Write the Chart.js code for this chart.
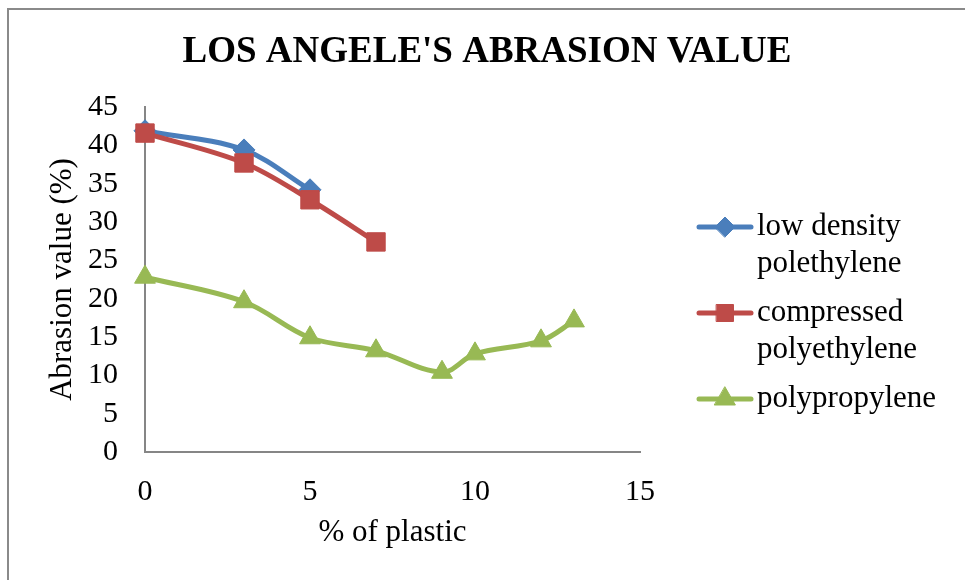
<!DOCTYPE html>
<html>
<head>
<meta charset="utf-8">
<script src="https://cdn.jsdelivr.net/npm/chart.js@4"></script>
<style>
    html, body { margin: 0; padding: 0; background: #fff; }
    #wrap { width: 965px; height: 580px; position: relative; }
</style>
</head>
<body>
<div id="wrap"><canvas id="abrasionChart" width="965" height="580"></canvas></div>
<script>
// % of plastic added, per mix
const ldpeX = [0, 3, 5];
const ldpeY = [41.9, 39.4, 34.2];

const compressedX = [0, 3, 5, 7];
const compressedY = [41.6, 37.7, 32.9, 27.4];

const ppX = [0, 3, 5, 7, 9, 10, 12, 13];
const ppY = [22.8, 19.6, 14.9, 13.2, 10.4, 12.8, 14.5, 17.1];

const seriesNames = [
    ['low density', 'polethylene'],
    ['compressed', 'polyethylene'],
    ['polypropylene']
];

const chartTitle = "LOS ANGELE'S ABRASION VALUE";
const xTitle = '% of plastic';
const yTitle = 'Abrasion value (%)';

const SERIF = '"Liberation Serif", "Times New Roman", serif';

function toPoints(xs, ys) {
    return xs.map((x, i) => ({ x: x, y: ys[i] }));
}

// Frame, title and the legend (line + marker, wrapped labels)
const decorations = {
    id: 'decorations',
    beforeDraw(chart) {
        const ctx = chart.ctx;
        ctx.save();
        ctx.fillStyle = '#fff';
        ctx.fillRect(0, 0, chart.width, chart.height);
        ctx.strokeStyle = '#8a8a8a';
        ctx.lineWidth = 2;
        ctx.beginPath();
        ctx.moveTo(8, chart.height + 2);
        ctx.lineTo(8, 9);
        ctx.lineTo(chart.width + 2, 9);
        ctx.stroke();
        ctx.restore();
    },
    afterDraw(chart) {
        const ctx = chart.ctx;
        ctx.save();
        ctx.fillStyle = '#000';
        ctx.font = 'bold 37px ' + SERIF;
        ctx.textAlign = 'center';
        ctx.textBaseline = 'middle';
        ctx.fillText(chartTitle, 487, 52);

        const rows = [227, 313, 399];
        const lineGap = 37;
        chart.data.datasets.forEach((ds, i) => {
            const y = rows[i];
            ctx.strokeStyle = ds.borderColor;
            ctx.lineWidth = 5;
            ctx.lineCap = 'round';
            ctx.beginPath();
            ctx.moveTo(699, y);
            ctx.lineTo(751, y);
            ctx.stroke();
            ctx.fillStyle = ds.pointBackgroundColor;
            ctx.strokeStyle = ds.borderColor;
            ctx.lineWidth = 1;
            Chart.helpers.drawPoint(ctx, {
                pointStyle: ds.pointStyle,
                radius: ds.legendRadius,
                borderWidth: 1,
                rotation: 0
            }, 725, y);
            ctx.fillStyle = '#000';
            ctx.font = '31px ' + SERIF;
            ctx.textAlign = 'left';
            ctx.textBaseline = 'middle';
            seriesNames[i].forEach((t, k) => ctx.fillText(t, 757, y + k * lineGap));
        });
        ctx.restore();
    }
};

const ctx = document.getElementById('abrasionChart').getContext('2d');
const abrasionChart = new Chart(ctx, {
    type: 'scatter',
    data: {
        datasets: [{
            label: seriesNames[0].join(' '),
            data: toPoints(ldpeX, ldpeY),
            borderColor: '#4A7EBB',
            backgroundColor: '#4A7EBB',
            pointBackgroundColor: '#4A7EBB',
            pointStyle: 'rectRot',
            pointRadius: 11,
            legendRadius: 10,
            clip: false,
            order: 3
        }, {
            label: seriesNames[1].join(' '),
            data: toPoints(compressedX, compressedY),
            borderColor: '#BE4B48',
            backgroundColor: '#BE4B48',
            pointBackgroundColor: '#BE4B48',
            pointStyle: 'rect',
            pointRadius: 13,
            legendRadius: 12,
            clip: false,
            order: 2
        }, {
            label: seriesNames[2].join(' '),
            data: toPoints(ppX, ppY),
            borderColor: '#98B954',
            backgroundColor: '#98B954',
            pointBackgroundColor: '#98B954',
            pointStyle: 'triangle',
            pointRadius: 12,
            legendRadius: 12,
            clip: false,
            order: 1
        }]
    },
    options: {
        responsive: false,
        animation: false,
        showLine: true,
        elements: {
            line: { borderWidth: 5, tension: 0.35, borderCapStyle: 'round', borderJoinStyle: 'round' },
            point: { borderWidth: 1, hoverRadius: 12 }
        },
        layout: {
            padding: { top: 107, left: 0, right: 325, bottom: 0 }
        },
        plugins: {
            legend: { display: false },
            title: { display: false },
            tooltip: { enabled: false }
        },
        scales: {
            x: {
                type: 'linear',
                min: 0,
                max: 15,
                ticks: {
                    stepSize: 5,
                    padding: 22,
                    color: '#000',
                    maxRotation: 0,
                    autoSkip: false,
                    font: { family: SERIF, size: 30 }
                },
                grid: { display: false, drawTicks: false },
                border: { color: '#868686', width: 2 },
                title: {
                    display: true,
                    text: xTitle,
                    color: '#000',
                    font: { family: SERIF, size: 31 },
                    padding: { top: 0, bottom: 29 }
                },
                afterFit(scale) { scale.height = 128; }
            },
            y: {
                min: 0,
                max: 45,
                ticks: {
                    stepSize: 5,
                    padding: 27,
                    color: '#000',
                    autoSkip: false,
                    font: { family: SERIF, size: 30 }
                },
                grid: { display: false, drawTicks: false },
                border: { color: '#868686', width: 2 },
                title: {
                    display: true,
                    text: yTitle,
                    color: '#000',
                    font: { family: SERIF, size: 31 },
                    padding: { top: 44, bottom: 0 }
                },
                afterFit(scale) { scale.width = 145; }
            }
        }
    },
    plugins: [decorations]
});
</script>
</body>
</html>
